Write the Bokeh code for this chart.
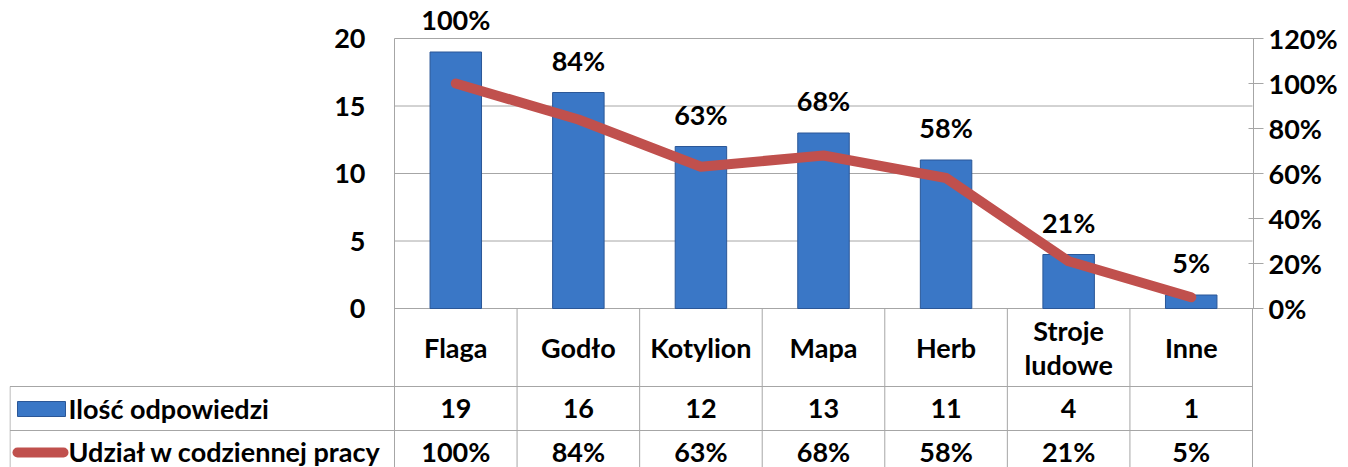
from bokeh.plotting import figure
from bokeh.models import (Range1d, LinearAxis, FixedTicker, NumeralTickFormatter,
                          ColumnDataSource, LabelSet)
from bokeh.embed import file_html
from bokeh.resources import INLINE
from bokeh.core.properties import value

# ---------------- data ----------------
categories = ["Flaga", "Godło", "Kotylion", "Mapa", "Herb", "Stroje\nludowe", "Inne"]
counts = [19, 16, 12, 13, 11, 4, 1]
shares = [1.00, 0.84, 0.63, 0.68, 0.58, 0.21, 0.05]
share_labels = ["100%", "84%", "63%", "68%", "58%", "21%", "5%"]
count_labels = ["19", "16", "12", "13", "11", "4", "1"]
left_ticks = [0, 5, 10, 15, 20]
right_ticks = [0, 0.2, 0.4, 0.6, 0.8, 1.0, 1.2]
series_names = ["Ilość odpowiedzi", "Udział w codziennej pracy"]

# ---------------- style / layout ----------------
FONT = "Lato"
FS = "27px"
GRID = "#a6a6a6"
BAR = "#3a77c6"
BAR_LINE = "#2b5797"
RED = "#c0504d"

W, H = 1348, 467
FRAME_L = 9          # table starts here
CHART_L = 394        # chart plot area left edge
CHART_R = 1252       # chart plot area right edge
Y0_PX, Y20_PX = 308, 38
N = len(categories)
COLW = (CHART_R - CHART_L) / N
PXU = (Y0_PX - Y20_PX) / max(left_ticks)          # pixels per count unit
PXP = (Y0_PX - Y20_PX) / max(right_ticks)         # pixels per share unit

x_start = -0.5 - (CHART_L - FRAME_L) / COLW
x_end = N - 0.5 + 1 / COLW
y_top = Y0_PX / PXU
y_bot = -(H - Y0_PX) / PXU


def px_x(fx):
    return -0.5 + (fx - CHART_L) / COLW


def px_y(fy):
    return (Y0_PX - fy) / PXU


p = figure(width=W, height=H, x_range=Range1d(x_start, x_end), y_range=Range1d(y_bot, y_top),
           output_backend="svg", toolbar_location=None, x_axis_location=None,
           y_axis_location=None, min_border_left=FRAME_L, min_border_right=W - CHART_R - 1,
           min_border_top=0, min_border_bottom=0)
p.extra_y_ranges = {"pct": Range1d(-(H - Y0_PX) / PXP, Y0_PX / PXP)}
p.outline_line_color = None
p.grid.visible = False
p.background_fill_color = "white"

# left axis, fixed at the left edge of the chart area
la = LinearAxis(ticker=FixedTicker(ticks=left_ticks), fixed_location=-0.5,
                bounds=(0, max(left_ticks)))
la.axis_line_color = None
la.major_tick_line_color = None
la.minor_tick_line_color = None
la.major_tick_out = 0
la.major_tick_in = 0
la.major_label_standoff = 29
la.major_label_text_font = FONT
la.major_label_text_font_size = FS
la.major_label_text_font_style = "bold"
la.major_label_text_color = "black"
p.add_layout(la, "left")

# right axis
ra = LinearAxis(y_range_name="pct", ticker=FixedTicker(ticks=right_ticks),
                formatter=NumeralTickFormatter(format="0%"), bounds=(0, max(right_ticks)))
ra.axis_line_color = GRID
ra.major_tick_line_color = GRID
ra.minor_tick_line_color = None
ra.major_tick_in = 5
ra.major_tick_out = 10
ra.major_label_standoff = 5
ra.major_label_text_font = FONT
ra.major_label_text_font_size = FS
ra.major_label_text_font_style = "bold"
ra.major_label_text_color = "black"
p.add_layout(ra, "right")

# gridlines (chart area only)
p.segment(x0=-0.5, x1=N - 0.5, y0=left_ticks, y1=left_ticks, line_color=GRID, line_width=1)

# chart left border + table lines
row1_b = px_y(386)
row2_b = px_y(430)
p.segment(x0=[-0.5], x1=[-0.5], y0=[y_bot], y1=[max(left_ticks)], line_color=GRID,
          line_width=1)
p.segment(x0=[k + 0.5 for k in range(N)], x1=[k + 0.5 for k in range(N)],
          y0=y_bot, y1=0, line_color=GRID, line_width=1)
p.segment(x0=px_x(9.5), x1=N - 0.5, y0=[row1_b, row2_b], y1=[row1_b, row2_b],
          line_color=GRID, line_width=1)
p.segment(x0=[px_x(9.5)], x1=[px_x(9.5)], y0=[y_bot], y1=[row1_b], line_color=GRID,
          line_width=1)

# bars and line
p.vbar(x=list(range(N)), top=counts, width=0.42, bottom=0, fill_color=BAR,
       line_color=BAR_LINE, line_width=1)
p.line(x=list(range(N)), y=shares, y_range_name="pct", line_color=RED, line_width=10,
       line_cap="round", line_join="round")

lab_src = ColumnDataSource(dict(x=list(range(N)), y=counts, t=share_labels))
p.add_layout(LabelSet(x="x", y="y", text="t", source=lab_src, text_align="center",
                      text_baseline="alphabetic", y_offset=22,
                      text_font=value(FONT), text_font_size=value(FS),
                      text_font_style="bold", text_color="black"))

# table texts
tkw = dict(text_font=value(FONT), text_font_size=value(FS), text_font_style="bold",
           text_color="black", text_baseline="middle")
p.text(x=list(range(N)), y=[px_y(347)] * N, text=categories, text_align="center",
       text_line_height=1.05, **tkw)
p.text(x=list(range(N)), y=[px_y(408)] * N, text=count_labels, text_align="center", **tkw)
p.text(x=list(range(N)), y=[px_y(451)] * N, text=share_labels, text_align="center", **tkw)

p.text(x=[px_x(68)] * 2, y=[px_y(408), px_y(451)], text=series_names, text_align="left", **tkw)
p.rect(x=[px_x(41)], y=[px_y(408.5)], width=48, height=15, width_units="screen",
       height_units="screen", fill_color=BAR, line_color=BAR_LINE)
p.segment(x0=[px_x(17)], y0=[px_y(452)], x1=[px_x(63)], y1=[px_y(452)],
          line_color=RED, line_width=10, line_cap="round")

open("out.html", "w").write(file_html(p, INLINE))
